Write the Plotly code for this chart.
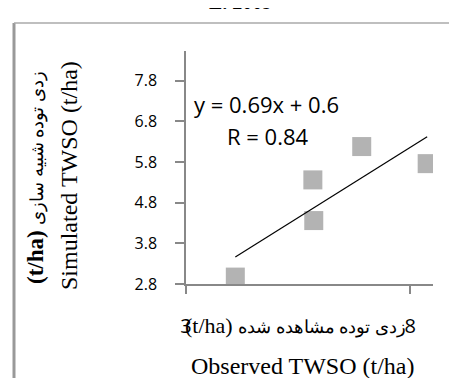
import plotly.graph_objects as go
import numpy as np

# ---- data ----
observed = [4.10, 5.83, 5.85, 6.92, 8.38]
simulated = [2.97, 5.36, 4.36, 6.18, 5.76]
x_ticks = [3, 8]
y_ticks = [2.8, 3.8, 4.8, 5.8, 6.8, 7.8]
y_tick_labels = ["2.8", "3.8", "4.8", "5.8", "6.8", "7.8"]
equation_text = "y = 0.69x + 0.6"
r_text = "R = 0.84"
title_text = "E. 2009"
unit_text = "(t/ha)"
x_title_fa = "زدی توده مشاهده شده"
x_title_en = "Observed TWSO (t/ha)"
y_title_fa = "زدی توده شبیه سازی"
y_title_en = "Simulated TWSO (t/ha)"

# linear trend from the data
slope, intercept = np.polyfit(observed, simulated, 1)
trend_x = [min(observed), max(observed)]
trend_y = [slope * v + intercept for v in trend_x]

W, H = 457, 378
L, R, T, B = 178, 32, 43, 102
pw, ph = W - L - R, H - T - B

def px(xp):
    return (xp - L) / pw

def py(yp):
    return (H - B - yp) / ph

fig = go.Figure()
fig.add_trace(go.Scatter(x=observed, y=simulated, mode="markers",
                         marker=dict(symbol="square", size=19, color="#B3B3B3"),
                         showlegend=False, hoverinfo="skip"))
fig.add_trace(go.Scatter(x=trend_x, y=trend_y, mode="lines",
                         line=dict(color="black", width=1.2),
                         showlegend=False, hoverinfo="skip"))

axis_color = "#888888"
fig.update_layout(
    width=W, height=H,
    margin=dict(l=L, r=R, t=T, b=B),
    paper_bgcolor="white", plot_bgcolor="white",
    xaxis=dict(range=[3, 8.51], tickvals=x_ticks, ticktext=[str(v) for v in x_ticks],
               showgrid=False, zeroline=False, showline=True, linecolor=axis_color,
               linewidth=1.5, ticks="outside", ticklen=8, tickcolor=axis_color,
               tickwidth=1.5,
               tickfont=dict(family="Open Sans", size=20, color="black"),
               ticklabelstandoff=15),
    yaxis=dict(range=[2.8, 8.53], tickvals=y_ticks, ticktext=y_tick_labels,
               showgrid=False, zeroline=False, showline=True, linecolor=axis_color,
               linewidth=1.5, ticks="outside", ticklen=9, tickcolor=axis_color,
               tickwidth=1.5,
               tickfont=dict(family="Open Sans", size=16, color="black"),
               ticklabelstandoff=15),
)

ann_font = dict(family="Open Sans", size=22, color="black")
fig.add_annotation(x=3.13, y=7.23, xref="x", yref="y", text=equation_text,
                   showarrow=False, xanchor="left", yanchor="middle", font=ann_font)
fig.add_annotation(x=3.88, y=6.44, xref="x", yref="y", text=r_text,
                   showarrow=False, xanchor="left", yanchor="middle", font=ann_font)

serif = "Liberation Serif, Times New Roman, serif"
fa_span = '<span style="font-size:18px">{}</span>'
fig.add_annotation(x=px(175), y=py(317), xref="paper", yref="paper",
                   text=unit_text + " " + fa_span.format(x_title_fa),
                   showarrow=False, xanchor="left", yanchor="middle",
                   font=dict(family=serif, size=22, color="black"))
fig.add_annotation(x=px(295), y=py(358), xref="paper", yref="paper", text=x_title_en,
                   showarrow=False, xanchor="center", yanchor="middle",
                   font=dict(family=serif, size=24, color="black"))
fig.add_annotation(x=px(27), y=py(170), xref="paper", yref="paper",
                   text="<b>" + unit_text + "</b> " + fa_span.format(y_title_fa),
                   showarrow=False, xanchor="center", yanchor="middle", textangle=-90,
                   font=dict(family=serif, size=23, color="black"))
fig.add_annotation(x=px(61), y=py(168), xref="paper", yref="paper", text=y_title_en,
                   showarrow=False, xanchor="center", yanchor="middle", textangle=-90,
                   font=dict(family=serif, size=24, color="black"))

# partially visible title at the very top
fig.add_annotation(x=px(232), y=1, xref="paper", yref="paper", text="<b>" + title_text + "</b>",
                   showarrow=False, xanchor="center", yanchor="bottom", yshift=36.5,
                   font=dict(family=serif, size=20, color="black"))

# outer chart frame (gray)
fig.add_shape(type="line", xref="paper", yref="paper", x0=px(6), x1=px(6), y0=py(15), y1=py(380),
              line=dict(color="#999999", width=3))
fig.add_shape(type="line", xref="paper", yref="paper", x0=px(6), x1=px(460), y0=py(15), y1=py(15),
              line=dict(color="#AAAAAA", width=1.5))

fig.write_html("out.html")
